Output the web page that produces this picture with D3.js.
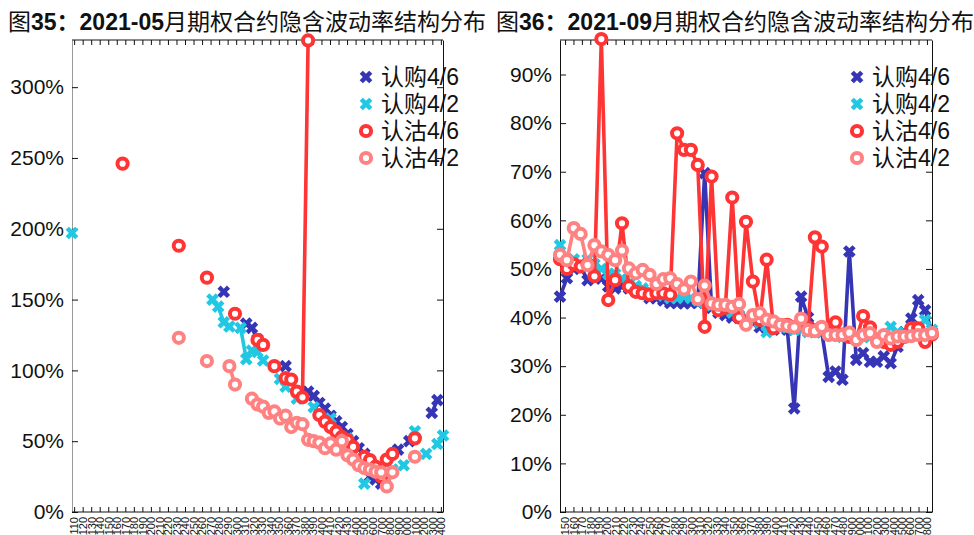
<!DOCTYPE html>
<html><head><meta charset="utf-8">
<script src="https://cdn.jsdelivr.net/npm/d3@7"></script>
<style>body{margin:0;background:#fff}svg{display:block}</style></head>
<body><svg id="c" width="974" height="535"></svg>
<script>
// ---------------- DATA ----------------
const seriesNames = ["认购4/6", "认购4/2", "认沽4/6", "认沽4/2"];
const seriesColors = ["#3535b5", "#20c8e3", "#ff3434", "#ff8282"];
const seriesShapes = ["x", "x", "o", "o"];

const titleL = ["图", "35：2021-05", "月期权合约隐含波动率结构分布"];
const titleR = ["图", "36：2021-09", "月期权合约隐含波动率结构分布"];

const yTicksL = [0, 0.5, 1, 1.5, 2, 2.5, 3];
const yTicksR = [0, 0.1, 0.2, 0.3, 0.4, 0.5, 0.6, 0.7, 0.8, 0.9];

const xLabelsL = ["110","120","130","140","150","160","170","180","190","200","210","220","230","240","250","260","270","280","290","300","310","320","330","340","350","360","370","380","390","400","410","420","430","4400","4500","4600","4700","4800","4900","5000","5100","5200","5300","5400"];
const xLabelsR = ["150","160","170","180","190","200","210","220","230","240","250","260","270","280","290","300","310","320","330","340","350","360","370","380","390","400","410","420","430","440","450","460","470","480","4900","5000","5100","5200","5300","5400","5500","5600","5700","5800"];

// Left panel (2021-05): [strike position, implied vol]
const buyL46 = [[27,1.555],[31,1.33],[32,1.30],[33,1.22],[38,1.03],[42,0.85],[43,0.82],[44,0.77],[45,0.73],[46,0.68],[47,0.64],[48,0.60],[49,0.55],[50,0.50],[51,0.45],[52,0.41],[53,0.25],[54,0.23],[55,0.20],[58,0.44],[60,0.50],[64,0.70],[65,0.79]];
const buyL42 = [[0,1.97],[25,1.50],[26,1.45],[27,1.34],[28,1.31],[30,1.30],[31,1.08],[32,1.14],[33,1.13],[34,1.07],[37,0.94],[38,0.885],[40,0.80],[43,0.74],[46,0.66],[49,0.52],[52,0.20],[57,0.30],[59,0.33],[61,0.57],[63,0.41],[65,0.48],[66,0.54]];
const putL46 = [[9,2.46],[19,1.88],[24,1.655],[29,1.40],[33,1.215],[34,1.18],[36,1.03],[38,0.945],[39,0.935],[40,0.85],[41,0.81],[42,3.33],[44,0.685],[45,0.638],[46,0.60],[47,0.567],[48,0.53],[49,0.51],[50,0.46],[52,0.39],[53,0.367],[54,0.32],[55,0.25],[56,0.37],[57,0.41],[61,0.52]];
const putL42 = [[19,1.23],[24,1.066],[28,1.03],[29,0.90],[32,0.80],[33,0.76],[34,0.744],[35,0.70],[36,0.71],[37,0.66],[38,0.68],[39,0.60],[40,0.63],[41,0.62],[42,0.51],[43,0.50],[44,0.49],[45,0.45],[46,0.485],[47,0.44],[48,0.50],[49,0.40],[50,0.37],[51,0.33],[52,0.31],[53,0.30],[54,0.285],[55,0.28],[56,0.18],[57,0.28],[61,0.39]];

// Right panel (2021-09): one value per strike position 0..54
const buyR46 = [0.443,0.481,0.50,0.505,0.477,0.50,0.48,0.464,0.46,0.465,0.46,0.455,0.45,0.44,0.44,0.435,0.43,0.43,0.429,0.43,0.43,0.697,0.42,0.41,0.405,0.40,0.40,0.39,0.39,0.38,0.378,0.375,0.38,0.375,0.213,0.443,0.40,0.38,0.37,0.278,0.289,0.272,0.536,0.313,0.327,0.309,0.309,0.32,0.306,0.34,0.37,0.398,0.436,0.415,0.37];
const buyR42 = [0.549,0.52,0.52,0.51,0.52,0.51,0.50,0.49,0.49,0.48,0.47,0.465,0.46,0.455,0.45,0.445,0.44,0.44,0.443,0.44,0.435,0.43,0.425,0.42,0.415,0.41,0.405,0.40,0.395,0.39,0.37,0.385,0.38,0.38,0.375,0.375,0.37,0.37,0.37,0.365,0.365,0.36,0.36,0.36,0.36,0.36,0.355,0.36,0.381,0.37,0.365,0.37,0.38,0.395,0.375];
const putR46 = [0.52,0.50,0.51,0.505,0.51,0.485,0.973,0.436,0.477,0.594,0.464,0.453,0.45,0.447,0.45,0.45,0.447,0.779,0.745,0.745,0.714,0.381,0.69,0.415,0.42,0.647,0.40,0.597,0.474,0.395,0.519,0.378,0.385,0.385,0.38,0.39,0.38,0.565,0.546,0.37,0.39,0.365,0.36,0.355,0.403,0.38,0.355,0.35,0.344,0.35,0.36,0.378,0.378,0.35,0.365];
const putR42 = [0.529,0.518,0.584,0.572,0.508,0.549,0.536,0.529,0.518,0.538,0.501,0.491,0.498,0.488,0.469,0.479,0.481,0.469,0.458,0.474,0.438,0.466,0.429,0.426,0.426,0.422,0.428,0.385,0.405,0.409,0.396,0.392,0.385,0.383,0.38,0.398,0.374,0.372,0.381,0.364,0.364,0.364,0.369,0.354,0.364,0.368,0.35,0.364,0.357,0.361,0.361,0.362,0.364,0.364,0.368];

// ---------------- DRAW ----------------
const svg = d3.select("#c");
const LATIN = "'Liberation Sans', Arial, 'Noto Sans CJK SC', sans-serif";

function toDense(pairs, n) {
  const a = new Array(n).fill(null);
  pairs.forEach(([i, v]) => { a[i] = v; });
  return a;
}

function drawPanel(cfg) {
  const { x0, x1, y0, y1, xMax, yMax, yTicks, xLabels, series, title, titleX, legendX } = cfg;
  const g = svg.append("g");
  const x = d3.scaleLinear().domain([0, xMax]).range([x0, x1]);
  const y = d3.scaleLinear().domain([0, yMax]).range([y1, y0]);
  const xc = d3.scalePoint().domain(xLabels).range([x0, x1]).padding(cfg.pad);

  // title
  const t = g.append("text").attr("x", titleX).attr("y", 30)
    .style("font-family", LATIN).style("font-size", "23px").attr("fill", "#111");
  t.append("tspan").text(title[0]);
  t.append("tspan").style("font-weight", "bold").text(title[1]);
  t.append("tspan").text(title[2]);

  // left axis (inner ticks)
  const ax = g.append("g").attr("transform", `translate(${x0},0)`)
    .call(d3.axisLeft(y).tickValues(yTicks).tickFormat(d3.format(".0%")).tickSizeInner(-6).tickSizeOuter(0).tickPadding(8));
  ax.select(".domain").attr("stroke", cfg.leftAxisColor);
  ax.selectAll("text").style("font-family", LATIN).style("font-size", "21px").attr("fill", "#111");
  ax.selectAll(".tick line").attr("stroke", "#111");
  // right axis (ticks pointing inward, no labels)
  const ar = g.append("g").attr("transform", `translate(${x1},0)`)
    .call(d3.axisRight(y).tickValues(yTicks).tickFormat("").tickSizeInner(-6).tickSizeOuter(0));
  ar.selectAll("line,path").attr("stroke", "#111");
  // top axis
  const at = g.append("g").attr("transform", `translate(0,${y0})`)
    .call(d3.axisTop(xc).tickFormat("").tickSizeInner(-5).tickSizeOuter(0));
  at.select(".domain").attr("d", `M${x0},0H${x1}`);
  at.selectAll("line,path").attr("stroke", "#111");
  // bottom axis with rotated labels
  const ab = g.append("g").attr("transform", `translate(0,${y1})`)
    .call(d3.axisBottom(xc).tickSizeInner(-5).tickSizeOuter(0));
  ab.select(".domain").attr("d", `M${x0},0H${x1}`);
  ab.selectAll("line,path").attr("stroke", "#111");
  ab.selectAll("text")
    .attr("transform", "rotate(-90)").attr("x", -5).attr("y", 0).attr("dy", "0.35em")
    .attr("text-anchor", "end")
    .style("font-family", LATIN).style("font-size", "11px").attr("fill", "#111");

  const cross = d3.symbol().type(d3.symbolCross).size(100)();
  const line = d3.line().defined(d => d != null).x((d, i) => x(i)).y(d => y(d));

  series.forEach((vals, k) => {
    const col = seriesColors[k];
    const sg = g.append("g");
    sg.append("path").datum(vals).attr("d", line)
      .attr("fill", "none").attr("stroke", col).attr("stroke-width", 3.6)
      .attr("stroke-linejoin", "round").attr("stroke-linecap", "round");
    const pts = vals.map((v, i) => ({ i, v })).filter(d => d.v != null);
    if (seriesShapes[k] === "x") {
      sg.selectAll("path.m").data(pts).join("path").attr("class", "m")
        .attr("d", cross).attr("fill", col)
        .attr("transform", d => `translate(${x(d.i)},${y(d.v)}) rotate(45)`);
    } else {
      sg.selectAll("circle").data(pts).join("circle")
        .attr("cx", d => x(d.i)).attr("cy", d => y(d.v)).attr("r", 5.1)
        .attr("fill", "#fff").attr("stroke", col).attr("stroke-width", 4);
    }
  });

  // legend
  const lg = g.append("g");
  const rowY = [77, 104, 131, 158];
  seriesNames.forEach((name, k) => {
    const col = seriesColors[k];
    if (seriesShapes[k] === "x") {
      lg.append("path").attr("d", cross).attr("fill", col)
        .attr("transform", `translate(${legendX},${rowY[k]}) rotate(45)`);
    } else {
      lg.append("circle").attr("cx", legendX).attr("cy", rowY[k]).attr("r", 5.1)
        .attr("fill", "#fff").attr("stroke", col).attr("stroke-width", 4);
    }
    lg.append("text").attr("x", legendX + 15).attr("y", rowY[k]).attr("dy", "0.36em")
      .style("font-family", LATIN).style("font-size", "23px").attr("fill", "#111").text(name);
  });
}

drawPanel({
  x0: 72, x1: 443, y0: 40, y1: 512, xMax: 66, yMax: 3.333, pad: 0.25,
  yTicks: yTicksL, xLabels: xLabelsL, leftAxisColor: "#999",
  series: [toDense(buyL46, 67), toDense(buyL42, 67), toDense(putL46, 67), toDense(putL42, 67)],
  title: titleL, titleX: 8, legendX: 366
});
drawPanel({
  x0: 560, x1: 932, y0: 40, y1: 512, xMax: 54, yMax: 0.971, pad: 0.6,
  yTicks: yTicksR, xLabels: xLabelsR, leftAxisColor: "#111",
  series: [buyR46, buyR42, putR46, putR42],
  title: titleR, titleX: 496, legendX: 857
});
</script>
</body></html>
